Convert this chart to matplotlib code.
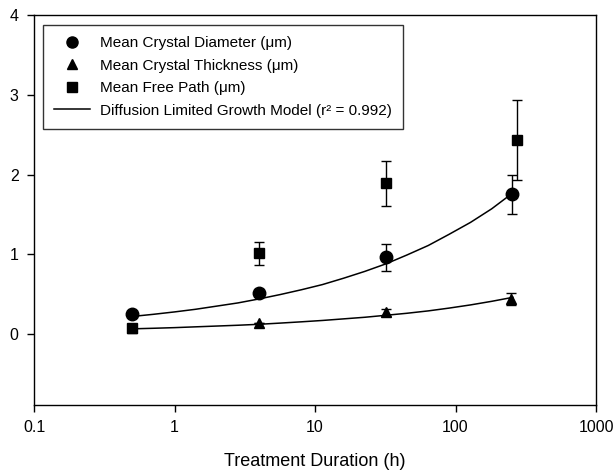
import numpy as np
import matplotlib.pyplot as plt
from matplotlib.lines import Line2D

plt.rcParams['font.family'] = ['Liberation Sans', 'DejaVu Sans']

# measured points (treatment duration in h, value in um)
dia_t = [0.5, 4, 32, 254]
dia_y = [0.25, 0.52, 0.96, 1.75]
dia_err = [0.0, 0.04, 0.17, 0.25]

thk_t = [0.5, 4, 32, 250]
thk_y = [0.07, 0.14, 0.27, 0.44]
thk_err = [0.0, 0.0, 0.04, 0.08]

mfp_t = [0.5, 4, 32, 274]
mfp_y = [0.075, 1.01, 1.89, 2.43]
mfp_err = [0.0, 0.15, 0.28, 0.5]

# model curves
model_t = [0.5, 0.707, 1, 1.41, 2, 2.83, 4, 5.66, 8, 11.3, 16, 22.6,
           32, 45, 64, 90, 128, 181, 256]
model_dia = [0.22, 0.247, 0.277, 0.31, 0.35, 0.39, 0.44, 0.495, 0.555, 0.62,
             0.70, 0.785, 0.88, 0.99, 1.11, 1.25, 1.40, 1.57, 1.77]
model_thk = [0.065, 0.072, 0.08, 0.09, 0.10, 0.11, 0.122, 0.137, 0.153, 0.17,
             0.19, 0.21, 0.235, 0.26, 0.29, 0.325, 0.365, 0.41, 0.46]

fig = plt.figure(figsize=(6.14, 4.71), dpi=100)
ax = fig.add_axes([34 / 614, 1 - 405 / 471, (596 - 34) / 614, (405 - 15) / 471])

ax.plot(model_t, model_dia, color='black', lw=1.1)
ax.plot(model_t, model_thk, color='black', lw=1.1)

ekw = dict(color='black', ls='none', capsize=3.5, elinewidth=1, capthick=1)
ax.errorbar(dia_t, dia_y, yerr=dia_err, marker='o', ms=9, **ekw)
ax.errorbar(thk_t, thk_y, yerr=thk_err, marker='^', ms=7.5, **ekw)
ax.errorbar(mfp_t, mfp_y, yerr=mfp_err, marker='s', ms=7.5, **ekw)

ax.set_xscale('log')
ax.set_xlim(0.1, 1000)
ax.set_ylim(-0.89, 4)
ax.set_xticks([0.1, 1, 10, 100, 1000])
ax.set_xticklabels(['0.1', '1', '10', '100', '1000'])
ax.minorticks_off()
ax.set_yticks([0, 1, 2, 3, 4])
ax.tick_params(direction='out', length=5, width=1, labelsize=11.5, pad=6)
for s in ax.spines.values():
    s.set_linewidth(1)

ax.set_xlabel('Treatment Duration (h)', fontsize=13, labelpad=13)

handles = [
    Line2D([], [], color='black', ls='none', marker='o', ms=8),
    Line2D([], [], color='black', ls='none', marker='^', ms=7),
    Line2D([], [], color='black', ls='none', marker='s', ms=6.5),
    Line2D([], [], color='black', lw=1.1),
]
labels = ['Mean Crystal Diameter (μm)', 'Mean Crystal Thickness (μm)',
          'Mean Free Path (μm)', 'Diffusion Limited Growth Model (r² = 0.992)']
leg = ax.legend(handles, labels, loc='upper left',
                bbox_to_anchor=(0.016, 0.974), fontsize=11,
                frameon=True, fancybox=False, edgecolor='black',
                handlelength=2.35, borderpad=0.72, labelspacing=0.56,
                handletextpad=0.65, borderaxespad=0)
leg.get_frame().set_linewidth(1)

fig.savefig('out.png', dpi=100)
